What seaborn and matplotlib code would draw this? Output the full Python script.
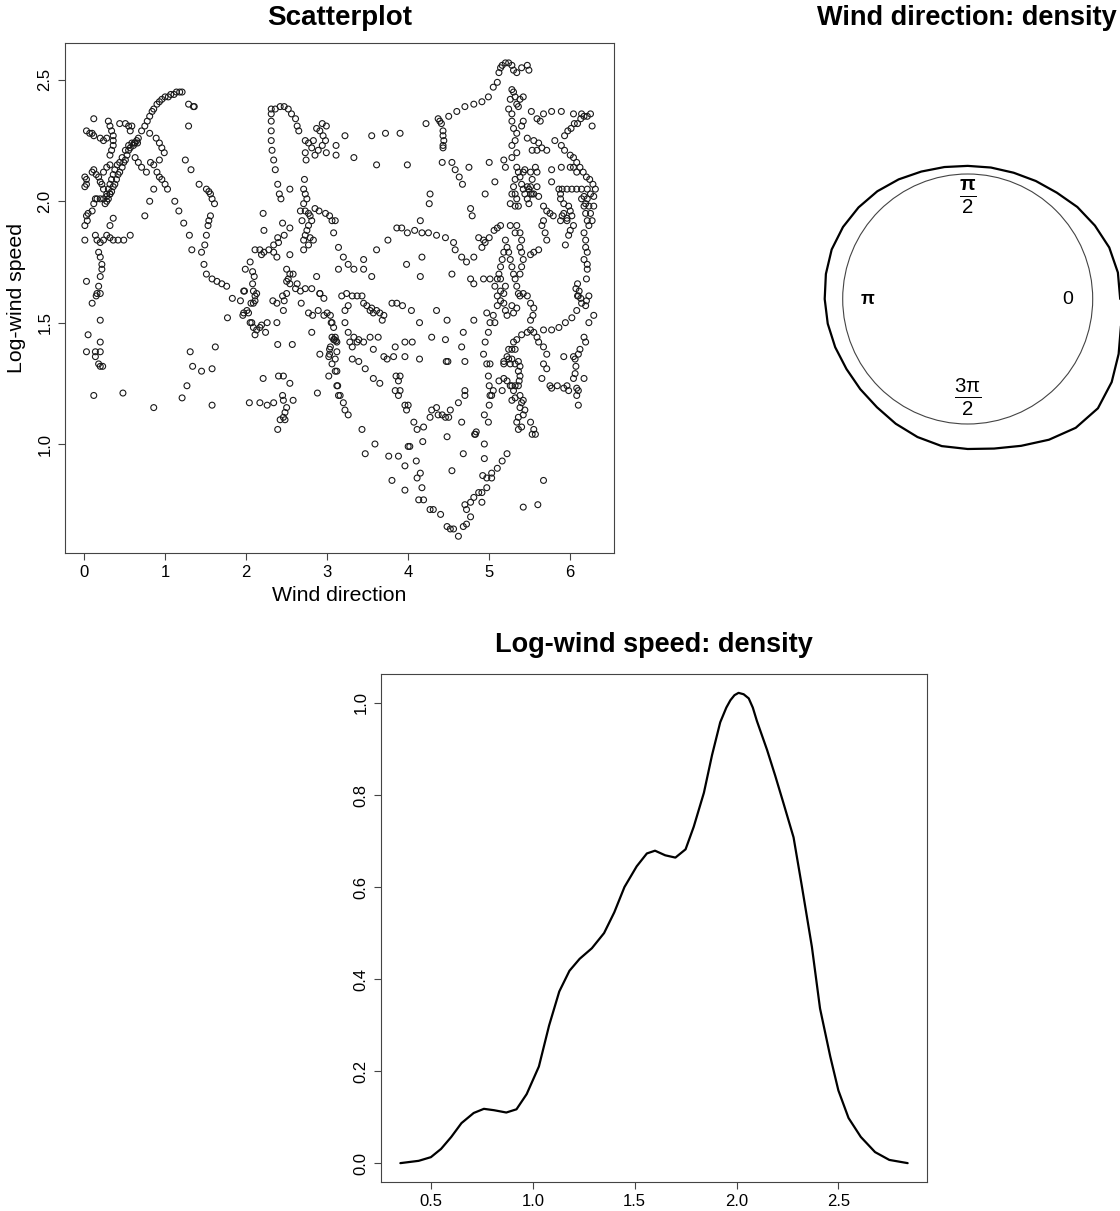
import numpy as np
import pandas as pd
import matplotlib
matplotlib.use('Agg')
import matplotlib.pyplot as plt
import seaborn as sns

# wind direction (rad) vs log wind speed
pts_left = [
    (0.71, 2.29), (0.75, 2.31), (0.78, 2.33), (0.81, 2.35), (0.84, 2.37), (0.86, 2.38), (0.90, 2.40),
    (0.93, 2.41), (0.96, 2.42), (1.00, 2.43), (1.04, 2.43), (1.07, 2.44), (1.11, 2.44), (1.14, 2.45),
    (1.18, 2.45), (1.21, 2.45), (1.29, 2.40), (1.35, 2.39), (1.36, 2.39), (1.29, 2.31), (1.25, 2.17),
    (1.32, 2.13), (1.42, 2.07), (1.51, 2.05), (1.54, 2.04), (1.56, 2.03), (1.58, 2.01), (1.61, 1.99),
    (1.56, 1.94), (1.54, 1.92), (1.53, 1.90), (1.51, 1.86), (1.49, 1.82), (1.45, 1.79), (1.48, 1.74),
    (1.51, 1.70), (1.58, 1.68), (1.64, 1.67), (1.70, 1.66), (1.76, 1.65),
    (0.12, 2.34), (0.03, 2.29), (0.07, 2.28), (0.10, 2.28), (0.12, 2.27),
    (0.30, 2.33), (0.32, 2.31), (0.34, 2.29), (0.36, 2.27), (0.36, 2.25), (0.36, 2.23), (0.34, 2.21),
    (0.32, 2.19), (0.20, 2.26), (0.24, 2.25), (0.28, 2.26), (0.44, 2.32), (0.51, 2.32), (0.55, 2.31),
    (0.59, 2.31), (0.57, 2.29),
    (0.65, 2.25), (0.63, 2.24), (0.61, 2.23), (0.57, 2.22), (0.55, 2.21), (0.53, 2.19), (0.51, 2.17),
    (0.49, 2.16), (0.47, 2.14), (0.44, 2.12), (0.42, 2.11), (0.40, 2.09), (0.38, 2.07), (0.36, 2.06),
    (0.34, 2.04), (0.32, 2.03), (0.30, 2.01), (0.28, 2.00), (0.26, 1.99),
    (0.59, 2.24), (0.55, 2.23), (0.51, 2.21), (0.47, 2.18), (0.44, 2.16), (0.41, 2.15), (0.38, 2.13),
    (0.36, 2.11), (0.34, 2.09), (0.32, 2.07), (0.30, 2.05), (0.28, 2.03),
    (0.67, 2.26), (0.62, 2.24), (0.66, 2.24), (0.63, 2.18), (0.67, 2.16), (0.71, 2.14), (0.77, 2.12),
    (0.81, 2.28), (0.89, 2.26), (0.93, 2.24), (0.96, 2.22), (0.99, 2.20),
    (0.82, 2.16), (0.86, 2.15), (0.90, 2.12), (0.93, 2.10), (0.96, 2.09), (1.00, 2.07), (1.03, 2.05),
    (0.93, 2.17), (0.86, 2.05), (0.81, 2.00), (0.75, 1.94),
    (1.12, 2.00), (1.17, 1.96), (1.23, 1.91), (1.30, 1.86), (1.33, 1.80),
    (0.01, 2.10), (0.03, 2.09), (0.03, 2.07), (0.01, 2.06), (0.10, 2.12), (0.12, 2.13), (0.15, 2.11),
    (0.18, 2.10), (0.20, 2.08), (0.22, 2.07), (0.24, 2.05), (0.24, 2.12), (0.28, 2.14), (0.32, 2.15),
    (0.03, 1.94), (0.05, 1.95), (0.10, 1.96), (0.12, 1.99), (0.14, 2.01), (0.16, 2.01), (0.20, 2.01),
    (0.24, 2.01), (0.28, 2.02), (0.32, 2.03), (0.01, 1.90), (0.04, 1.92), (0.36, 1.93), (0.32, 1.90),
    (0.01, 1.84), (0.14, 1.86), (0.16, 1.84), (0.20, 1.83), (0.24, 1.84), (0.28, 1.86), (0.32, 1.85),
    (0.36, 1.84), (0.42, 1.84), (0.49, 1.84), (0.57, 1.86),
    (0.18, 1.79), (0.20, 1.77), (0.22, 1.74), (0.22, 1.72), (0.20, 1.69), (0.18, 1.65), (0.16, 1.62),
    (0.03, 1.67), (0.15, 1.61), (0.20, 1.62), (0.10, 1.58), (0.20, 1.51), (0.05, 1.45), (0.20, 1.42),
    (0.20, 1.38), (0.14, 1.38), (0.03, 1.38), (0.14, 1.36), (0.18, 1.33), (0.20, 1.32), (0.23, 1.32),
    (0.12, 1.20), (0.48, 1.21), (0.86, 1.15),
    (1.21, 1.19), (1.27, 1.24), (1.31, 1.38), (1.34, 1.32), (1.45, 1.30), (1.58, 1.31), (1.62, 1.40),
    (1.58, 1.16), (1.77, 1.52), (1.83, 1.60), (1.93, 1.59), (1.98, 1.63), (1.97, 1.54), (1.96, 1.53),
]

pts_mid = [
    (2.01, 1.55), (2.03, 1.54), (2.05, 1.50), (2.07, 1.50), (2.09, 1.48), (2.11, 1.45), (2.13, 1.47),
    (2.17, 1.48), (2.19, 1.49), (2.24, 1.46), (2.26, 1.50), (2.38, 1.50),
    (2.06, 1.58), (2.09, 1.58), (2.11, 1.59), (2.11, 1.61), (2.13, 1.62),
    (2.31, 2.38), (2.36, 2.38), (2.42, 2.39), (2.47, 2.39), (2.52, 2.38), (2.56, 2.36), (2.61, 2.34),
    (2.63, 2.31), (2.31, 2.36), (2.31, 2.33), (2.31, 2.29), (2.31, 2.25), (2.32, 2.21), (2.34, 2.17),
    (2.36, 2.13), (2.39, 2.07), (2.41, 2.03), (2.43, 2.01), (2.54, 2.05), (2.65, 2.29), (2.73, 2.25),
    (2.87, 2.30), (2.91, 2.29), (2.95, 2.27), (2.98, 2.25), (2.94, 2.23), (2.89, 2.21), (2.85, 2.19),
    (2.81, 2.22), (2.77, 2.24), (2.83, 2.25), (2.99, 2.20), (2.94, 2.32), (2.99, 2.31),
    (3.11, 2.19), (2.73, 2.20), (2.74, 2.17), (2.72, 2.09),
    (2.71, 2.05), (2.73, 2.03), (2.75, 2.01), (2.71, 1.99), (2.73, 1.96), (2.77, 1.95), (2.79, 1.94),
    (2.81, 1.92), (2.77, 1.90), (2.75, 1.88), (2.73, 1.86), (2.71, 1.84), (2.79, 1.85), (2.83, 1.84),
    (2.77, 1.82), (2.71, 1.80), (2.67, 1.96), (2.69, 1.92),
    (2.85, 1.97), (2.90, 1.96), (2.98, 1.95), (3.03, 1.94), (3.10, 1.92), (3.08, 1.87), (3.14, 1.81),
    (3.14, 1.72), (2.45, 1.91), (2.54, 1.89), (2.47, 1.86), (2.39, 1.85), (2.22, 1.88),
    (2.11, 1.80), (2.17, 1.80), (2.22, 1.79), (2.28, 1.80), (2.34, 1.79), (2.38, 1.77), (2.19, 1.78),
    (2.40, 1.83), (2.34, 1.82), (2.54, 1.78), (2.05, 1.75), (1.99, 1.72), (2.08, 1.71), (2.10, 1.69),
    (1.97, 1.63), (2.08, 1.66), (2.09, 1.63),
    (2.50, 1.72), (2.54, 1.70), (2.58, 1.70), (2.52, 1.68), (2.50, 1.67), (2.54, 1.66), (2.63, 1.66),
    (2.73, 1.64), (2.81, 1.64), (2.87, 1.69), (2.91, 1.62), (2.21, 1.95),
    (2.33, 1.59), (2.38, 1.58), (2.47, 1.59), (2.46, 1.55), (2.45, 1.61), (2.50, 1.62), (2.61, 1.64),
    (2.67, 1.63), (2.39, 1.41), (2.57, 1.41), (2.21, 1.27), (2.40, 1.28), (2.46, 1.28), (2.54, 1.25),
    (2.04, 1.17), (2.17, 1.17), (2.26, 1.16), (2.34, 1.17), (2.45, 1.20), (2.46, 1.18), (2.58, 1.18),
    (2.50, 1.15), (2.48, 1.13), (2.46, 1.11), (2.42, 1.10), (2.48, 1.10), (2.39, 1.06),
    (2.68, 1.58), (2.77, 1.54), (2.82, 1.53), (2.81, 1.46), (2.89, 1.55), (2.91, 1.37), (2.88, 1.21),
    (2.96, 1.53), (3.00, 1.54), (3.05, 1.50), (3.06, 1.44), (3.08, 1.43), (3.12, 1.42), (3.03, 1.39),
    (3.03, 1.37), (3.02, 1.36), (3.06, 1.33), (3.10, 1.30), (3.02, 1.28), (3.12, 1.24), (3.14, 1.20),
    (2.96, 1.60), (2.91, 1.62), (3.09, 1.43), (3.10, 1.44), (3.11, 1.425),
    (3.22, 2.27), (3.55, 2.27), (3.72, 2.28), (3.90, 2.28), (3.11, 2.23), (3.33, 2.18), (3.61, 2.15),
    (3.99, 2.15), (4.22, 2.32), (4.37, 2.34), (4.39, 2.33), (4.41, 2.32), (4.43, 2.29), (4.43, 2.27),
    (4.44, 2.25), (4.43, 2.23), (4.43, 2.22),
    (3.20, 1.77), (3.26, 1.74), (3.33, 1.72), (3.45, 1.76), (3.45, 1.72), (3.55, 1.69), (3.61, 1.80),
    (3.75, 1.84), (3.86, 1.89), (3.92, 1.89), (3.99, 1.87), (4.08, 1.88), (4.17, 1.87), (4.25, 1.87),
    (4.35, 1.86), (4.46, 1.85), (3.06, 1.92), (4.15, 1.92), (4.17, 1.77), (4.15, 1.69), (3.98, 1.74),
    (4.27, 2.03), (4.26, 1.99), (4.77, 1.97), (4.79, 1.94),
    (4.95, 2.03), (5.07, 2.08), (5.00, 2.16), (4.75, 2.14), (4.58, 2.13), (4.54, 2.16), (4.42, 2.16),
    (4.63, 2.10), (4.67, 2.07), (4.56, 1.83), (4.58, 1.80), (4.66, 1.77), (4.72, 1.75), (4.81, 1.77),
    (4.87, 1.85), (4.93, 1.84), (5.00, 1.85), (5.06, 1.88), (5.10, 1.89), (5.14, 1.90), (4.91, 1.81),
    (4.95, 1.83), (4.54, 1.70), (4.77, 1.68), (4.81, 1.66), (4.93, 1.68), (5.01, 1.68), (5.14, 1.68),
]

pts_right = [
    (4.50, 2.35), (4.60, 2.37), (4.70, 2.39), (4.81, 2.40), (4.91, 2.41), (4.99, 2.43), (5.05, 2.47),
    (5.10, 2.49), (5.12, 2.53), (5.14, 2.55), (5.16, 2.56), (5.20, 2.57), (5.24, 2.57), (5.28, 2.56),
    (5.30, 2.54), (5.34, 2.53), (5.40, 2.55), (5.47, 2.56), (5.49, 2.54),
    (5.28, 2.46), (5.30, 2.45), (5.32, 2.43), (5.34, 2.40), (5.36, 2.39), (5.38, 2.42), (5.42, 2.43),
    (5.26, 2.42), (5.24, 2.38), (5.28, 2.36), (5.52, 2.37), (5.59, 2.34), (5.63, 2.33),
    (5.67, 2.36), (5.77, 2.37), (5.89, 2.37), (6.04, 2.36), (6.14, 2.36), (6.25, 2.36),
    (5.93, 2.27), (5.97, 2.29), (6.01, 2.30), (6.05, 2.32), (6.09, 2.32), (6.13, 2.34), (6.17, 2.35),
    (6.21, 2.35), (6.27, 2.31),
    (5.28, 2.33), (5.30, 2.30), (5.34, 2.28), (5.42, 2.33), (5.40, 2.31), (5.32, 2.25), (5.28, 2.23),
    (5.34, 2.20), (5.28, 2.18), (5.18, 2.17), (5.20, 2.14),
    (5.47, 2.26), (5.55, 2.25), (5.61, 2.24), (5.65, 2.22), (5.71, 2.21), (5.53, 2.21), (5.59, 2.21),
    (5.81, 2.25), (5.89, 2.23), (5.93, 2.21), (6.00, 2.19), (6.04, 2.18), (6.08, 2.16), (6.12, 2.14),
    (6.16, 2.12), (6.20, 2.10), (6.24, 2.09), (6.28, 2.07), (6.31, 2.05),
    (5.89, 2.14), (6.00, 2.14), (6.04, 2.14), (6.08, 2.12), (5.77, 2.13), (5.77, 2.08),
    (5.34, 2.14), (5.36, 2.12), (5.38, 2.10), (5.40, 2.07), (5.42, 2.05), (5.44, 2.03), (5.47, 2.01),
    (5.49, 1.99), (5.32, 2.09), (5.30, 2.06), (5.32, 2.03), (5.34, 2.01), (5.36, 1.98), (5.51, 2.12),
    (5.51, 2.06), (5.53, 2.09), (5.55, 2.03), (5.57, 2.14), (5.59, 2.12), (5.59, 2.06), (5.61, 2.02),
    (5.47, 2.06), (5.49, 2.05), (5.51, 2.03), (5.53, 2.03), (5.42, 2.12), (5.44, 2.13), (5.28, 2.03),
    (5.26, 1.99), (5.32, 1.98),
    (5.86, 2.05), (5.90, 2.05), (5.96, 2.05), (6.02, 2.05), (6.08, 2.05), (6.14, 2.05), (6.21, 2.05),
    (5.88, 2.03), (5.88, 2.01), (5.92, 1.99), (5.98, 1.98), (6.00, 1.96), (6.02, 1.94),
    (6.17, 2.02), (6.19, 1.99), (6.21, 2.01), (6.23, 1.98), (6.25, 1.95), (6.27, 1.92), (6.17, 1.98),
    (6.19, 1.95), (6.21, 1.92), (6.29, 2.02), (6.29, 1.98), (6.25, 2.03), (6.14, 2.01), (6.23, 1.90),
    (5.92, 1.95), (5.96, 1.93), (5.90, 1.94), (6.00, 1.88), (5.98, 1.86), (6.04, 1.90), (6.17, 1.87),
    (6.19, 1.84), (5.67, 1.98), (5.71, 1.96), (5.75, 1.95), (5.79, 1.94), (5.88, 1.92), (5.96, 1.92),
    (5.67, 1.92), (5.65, 1.90), (5.69, 1.87), (5.71, 1.84), (5.61, 1.80), (5.55, 1.79), (5.51, 1.78),
    (5.94, 1.82), (6.19, 1.81), (6.21, 1.79), (6.17, 1.76), (6.21, 1.74), (6.21, 1.72),
    (6.09, 1.66), (6.07, 1.64), (6.11, 1.63), (6.09, 1.61), (6.13, 1.60), (6.20, 1.68),
    (5.20, 1.84), (5.22, 1.81), (5.24, 1.79), (5.26, 1.76), (5.28, 1.73), (5.30, 1.70), (5.32, 1.68),
    (5.34, 1.65), (5.36, 1.62), (5.38, 1.87), (5.40, 1.84), (5.38, 1.81), (5.40, 1.79), (5.42, 1.76),
    (5.40, 1.73), (5.38, 1.70), (5.18, 1.79), (5.16, 1.76), (5.14, 1.73), (5.12, 1.70), (5.10, 1.68),
    (5.07, 1.65), (5.20, 1.65), (5.18, 1.62), (5.34, 1.90), (5.26, 1.90), (5.32, 1.87),
]

pts_low = [
    (3.24, 1.62), (3.31, 1.61), (3.37, 1.61), (3.43, 1.61), (3.45, 1.58), (3.49, 1.57), (3.55, 1.56),
    (3.61, 1.55), (3.65, 1.54), (3.70, 1.53), (3.68, 1.51), (3.57, 1.54), (3.53, 1.55), (3.80, 1.58),
    (3.86, 1.58), (3.93, 1.57), (4.04, 1.55), (3.04, 1.53), (3.08, 1.48), (3.04, 1.40),
    (3.12, 1.38), (3.10, 1.35), (3.12, 1.30), (3.13, 1.24), (3.16, 1.20), (3.20, 1.17), (3.22, 1.14),
    (3.26, 1.12), (3.22, 1.50), (3.26, 1.46), (3.33, 1.44), (3.37, 1.42), (3.31, 1.40), (3.28, 1.42),
    (3.39, 1.43), (3.45, 1.42), (3.53, 1.44), (3.63, 1.44), (3.57, 1.39),
    (3.31, 1.35), (3.39, 1.34), (3.47, 1.31), (3.57, 1.27), (3.65, 1.25),
    (3.18, 1.61), (3.26, 1.57), (3.22, 1.55), (3.06, 1.50),
    (3.70, 1.36), (3.74, 1.35), (3.82, 1.36), (3.84, 1.40), (3.96, 1.42), (4.05, 1.42), (3.96, 1.36),
    (4.14, 1.35), (3.85, 1.28), (3.90, 1.28), (3.88, 1.26), (3.84, 1.22), (3.90, 1.22), (3.88, 1.20),
    (3.96, 1.16), (4.00, 1.16), (3.98, 1.14),
    (3.43, 1.06), (3.59, 1.00), (3.47, 0.96), (3.76, 0.95), (3.88, 0.95), (3.96, 0.91), (4.00, 0.99),
    (4.10, 0.93), (4.15, 0.88), (4.11, 0.86), (4.17, 0.82), (4.13, 0.77), (4.19, 0.77), (3.80, 0.85),
    (3.96, 0.81), (4.27, 0.73), (4.31, 0.73), (4.40, 0.71), (4.48, 0.66), (4.52, 0.65), (4.56, 0.65),
    (4.62, 0.62), (4.68, 0.66), (4.72, 0.67), (4.77, 0.70), (4.72, 0.73), (4.70, 0.75), (4.77, 0.76),
    (4.81, 0.78), (4.87, 0.80), (4.91, 0.80), (4.91, 0.76), (4.97, 0.82), (5.03, 0.86), (5.10, 0.90),
    (5.16, 0.93), (5.22, 0.96), (5.42, 0.74), (5.60, 0.75), (5.67, 0.85),
    (4.54, 0.89), (4.68, 0.96), (4.70, 1.20), (4.70, 1.22), (4.62, 1.17), (4.48, 1.03), (4.66, 1.09),
    (4.47, 1.34), (4.49, 1.34), (4.19, 1.07), (4.18, 1.01), (4.27, 1.11), (4.29, 1.14), (4.35, 1.15),
    (4.42, 1.12), (4.50, 1.11), (4.37, 1.12), (4.46, 1.11), (4.52, 1.14), (4.11, 1.06), (4.07, 1.09),
    (4.02, 0.99),
    (4.81, 1.51), (4.95, 1.42), (4.99, 1.46), (5.01, 1.50), (4.93, 1.37), (4.97, 1.33), (5.01, 1.33),
    (4.99, 1.28), (5.00, 1.24), (5.01, 1.20), (5.00, 1.16), (4.94, 1.12), (4.99, 1.09), (4.94, 1.00),
    (4.94, 0.94), (4.92, 0.87), (5.03, 0.88), (4.97, 0.86), (4.82, 1.04), (4.84, 1.05), (4.83, 1.04),
    (5.03, 1.20), (5.05, 1.22), (5.16, 1.22),
    (4.97, 1.54), (5.05, 1.53), (5.07, 1.50), (5.10, 1.57), (5.14, 1.59), (5.10, 1.61), (5.14, 1.63),
    (5.18, 1.58), (5.20, 1.55), (5.22, 1.53), (5.28, 1.57), (5.30, 1.54), (5.34, 1.56), (5.38, 1.61),
    (5.42, 1.62), (5.47, 1.61), (5.51, 1.58), (5.55, 1.56), (5.54, 1.53), (5.51, 1.51), (5.51, 1.47),
    (5.55, 1.46), (5.59, 1.44), (5.61, 1.42), (5.67, 1.40), (5.71, 1.37), (5.67, 1.33), (5.71, 1.31),
    (5.65, 1.27), (5.75, 1.24), (5.84, 1.24), (5.92, 1.23), (5.98, 1.22),
    (5.30, 1.42), (5.34, 1.43), (5.40, 1.45), (5.47, 1.46), (5.32, 1.39), (5.28, 1.39), (5.24, 1.39),
    (5.22, 1.36), (5.18, 1.34), (5.18, 1.33), (5.24, 1.35), (5.28, 1.35), (5.26, 1.33), (5.32, 1.33),
    (5.36, 1.34), (5.38, 1.32), (5.36, 1.30), (5.38, 1.28), (5.37, 1.26), (5.36, 1.24), (5.32, 1.24),
    (5.28, 1.24), (5.30, 1.22), (5.28, 1.18), (5.32, 1.19), (5.38, 1.20), (5.42, 1.18), (5.40, 1.17),
    (5.38, 1.15), (5.44, 1.14), (5.42, 1.12), (5.36, 1.11), (5.34, 1.09), (5.36, 1.06), (5.40, 1.07),
    (5.51, 1.09), (5.53, 1.04), (5.57, 1.04), (5.55, 1.06),
    (5.12, 1.26), (5.18, 1.27), (5.22, 1.26), (5.26, 1.24),
    (5.67, 1.47), (5.77, 1.47), (5.86, 1.48), (5.94, 1.50), (6.02, 1.52), (6.08, 1.55), (6.14, 1.58),
    (6.20, 1.59), (6.29, 1.53), (6.23, 1.50), (6.17, 1.44), (6.19, 1.42), (6.12, 1.39), (6.10, 1.37),
    (6.06, 1.35), (6.07, 1.32), (6.06, 1.29), (6.04, 1.27), (6.17, 1.27), (6.08, 1.23), (6.10, 1.22),
    (6.08, 1.20), (6.10, 1.16), (5.96, 1.24), (5.77, 1.23), (5.92, 1.36), (6.04, 1.36),
    (6.10, 1.61), (6.19, 1.57), (6.23, 1.61),
    (4.14, 1.50), (4.35, 1.55), (4.48, 1.51), (4.29, 1.44), (4.46, 1.43), (4.68, 1.46), (4.66, 1.40),
    (4.70, 1.34),
]

# density of log wind speed
dens_x = [0.35, 0.44, 0.50, 0.55, 0.60, 0.65, 0.71, 0.76, 0.81, 0.87, 0.92, 0.97, 1.03, 1.08,
          1.13, 1.18, 1.23, 1.29, 1.35, 1.40, 1.45, 1.51, 1.56, 1.60, 1.65, 1.70, 1.75, 1.79,
          1.84, 1.88, 1.92, 1.95, 1.97, 1.99, 2.01, 2.035, 2.06, 2.08, 2.10, 2.15, 2.19, 2.23,
          2.28, 2.32, 2.37, 2.41, 2.46, 2.50, 2.55, 2.61, 2.68, 2.75, 2.84]
dens_y = [0.000, 0.005, 0.013, 0.031, 0.057, 0.087, 0.109, 0.118, 0.115, 0.110, 0.117, 0.150,
          0.210, 0.299, 0.373, 0.418, 0.444, 0.467, 0.500, 0.545, 0.600, 0.645, 0.673, 0.679,
          0.669, 0.664, 0.682, 0.731, 0.805, 0.887, 0.958, 0.990, 1.006, 1.017, 1.022, 1.019,
          1.010, 0.990, 0.961, 0.898, 0.842, 0.783, 0.708, 0.604, 0.470, 0.336, 0.232, 0.158,
          0.098, 0.057, 0.024, 0.007, 0.000]

# circular density of wind direction: radius (unit circle = 1) every 10 degrees
circ_deg = list(range(0, 360, 10))
circ_r = [1.22, 1.22, 1.205, 1.175, 1.145, 1.11, 1.09, 1.075, 1.068, 1.065, 1.072, 1.085,
          1.105, 1.125, 1.14, 1.152, 1.158, 1.152, 1.144, 1.137, 1.128, 1.12, 1.122, 1.13,
          1.152, 1.175, 1.195, 1.20, 1.215, 1.25, 1.30, 1.345, 1.36, 1.33, 1.285, 1.245]

sns.set_theme(style='white')
plt.rcParams['font.family'] = ['Liberation Sans', 'DejaVu Sans']
plt.rcParams['text.color'] = 'black'
plt.rcParams['mathtext.fontset'] = 'custom'
plt.rcParams['mathtext.rm'] = 'Liberation Sans'
plt.rcParams['mathtext.it'] = 'Liberation Sans:italic'
plt.rcParams['mathtext.bf'] = 'Liberation Sans:bold'

W, H = 1120, 1211
fig = plt.figure(figsize=(W / 100, H / 100), dpi=100)
fig.patch.set_facecolor('white')


def box(l, t, r, b):
    return [l / W, 1 - b / H, (r - l) / W, (b - t) / H]


def r_style(ax):
    for s in ax.spines.values():
        s.set_visible(True)
        s.set_color('#444444')
        s.set_linewidth(0.8)
    ax.tick_params(direction='out', length=5, width=0.8, color='#444444', labelsize=12,
                   labelcolor='black', bottom=True, left=True, pad=4)
    ax.tick_params(axis='y', labelrotation=90)
    for lab in ax.get_yticklabels():
        lab.set_va('center')
    ax.set_xlabel('')
    ax.set_ylabel('')
    ax.set_facecolor('white')


# Scatterplot
df = pd.DataFrame(pts_left + pts_mid + pts_right + pts_low, columns=['direction', 'speed'])
ax1 = fig.add_axes(box(65, 43, 614, 553))
sns.scatterplot(data=df, x='direction', y='speed', ax=ax1, marker='o', s=18,
                facecolors='none', edgecolor='#1a1a1a', linewidth=0.8)
ax1.set_xlim(-0.235, 6.54)
ax1.set_ylim(0.551, 2.652)
ax1.set_xticks(range(7))
ax1.set_yticks([1.0, 1.5, 2.0, 2.5])
ax1.set_yticklabels(['1.0', '1.5', '2.0', '2.5'])
r_style(ax1)
fig.text(339.5 / W, 1 - 18 / H, 'Scatterplot', ha='center', va='center', size=20, weight='bold')
fig.text(339.5 / W, 1 - 596 / H, 'Wind direction', ha='center', va='center', size=15.3)
fig.text(17 / W, 1 - 298 / H, 'Log-wind speed', ha='center', va='center', size=15.3, rotation=90)

# circular density
ax2 = fig.add_axes(box(807.7, 139, 1127.7, 459))
ax2.set_xlim(-1.28, 1.28)
ax2.set_ylim(-1.28, 1.28)
ax2.axis('off')
ax2.add_patch(plt.Circle((0, 0), 1.0, fill=False, color='#444444', lw=0.8))
th = np.deg2rad(circ_deg + [360])
rr = np.array(circ_r + [circ_r[0]])
sns.lineplot(x=rr * np.cos(th), y=rr * np.sin(th), sort=False, ax=ax2, color='black', linewidth=1.6)
ax2.text(0.80, 0, '0', ha='center', va='center', size=14)
ax2.text(-0.80, 0, r'$\mathbf{π}$', ha='center', va='center', size=13)
ax2.text(0, 0.82, r'$\frac{\mathbf{π}}{\mathrm{2}}$', ha='center', va='center', size=21)
ax2.text(0, -0.79, r'$\frac{\mathrm{3π}}{\mathrm{2}}$', ha='center', va='center', size=21)
fig.text(966.5 / W, 1 - 18 / H, 'Wind direction: density', ha='center', va='center', size=19.5, weight='bold')

# log wind speed density
ax3 = fig.add_axes(box(381, 674, 927, 1182))
sns.lineplot(x=dens_x, y=dens_y, ax=ax3, color='black', linewidth=1.6, sort=False)
ax3.set_xlim(0.255, 2.935)
ax3.set_ylim(-0.041, 1.063)
ax3.set_xticks([0.5, 1.0, 1.5, 2.0, 2.5])
ax3.set_xticklabels(['0.5', '1.0', '1.5', '2.0', '2.5'])
ax3.set_yticks([0.0, 0.2, 0.4, 0.6, 0.8, 1.0])
ax3.set_yticklabels(['0.0', '0.2', '0.4', '0.6', '0.8', '1.0'])
r_style(ax3)
fig.text(654 / W, 1 - 645 / H, 'Log-wind speed: density', ha='center', va='center', size=19.5, weight='bold')

fig.savefig('out.png', dpi=100, facecolor='white')
